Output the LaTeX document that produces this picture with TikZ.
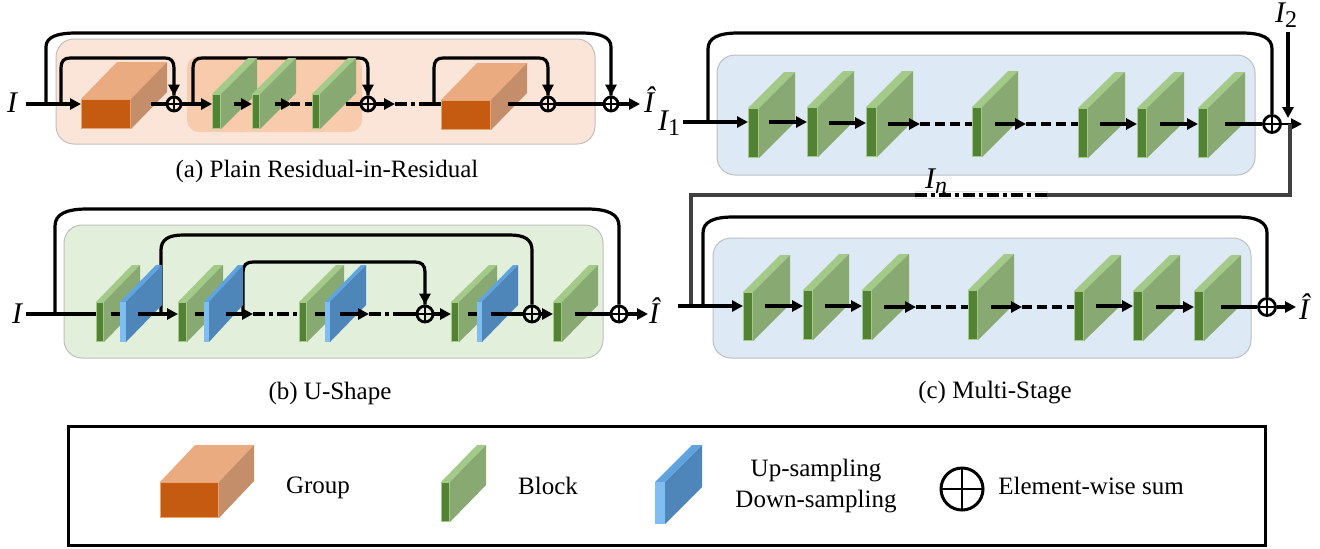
\documentclass[tikz,border=0pt]{standalone}
\usepackage{fontspec}
\setmainfont{Liberation Serif}
\usetikzlibrary{arrows.meta,calc}
\definecolor{gFront}{HTML}{548235}\definecolor{gEdge}{HTML}{A2CB85}\definecolor{gTop}{HTML}{A3CA88}\definecolor{gSide}{HTML}{89A973}
\definecolor{bFront}{HTML}{7FBDF2}\definecolor{bEdge}{HTML}{7FBDF2}\definecolor{bTop}{HTML}{5FA4E0}\definecolor{bSide}{HTML}{4F86B9}
\definecolor{oFront}{HTML}{C55A11}\definecolor{oEdge}{HTML}{E9A473}\definecolor{oTop}{HTML}{EBAB80}\definecolor{oSide}{HTML}{C38E69}
\definecolor{panelO}{HTML}{FBE5D8}\definecolor{panelOi}{HTML}{F8CBAD}\definecolor{panelG}{HTML}{E2EFDA}\definecolor{panelB}{HTML}{DDE9F5}
\tikzset{
  panel/.style={draw=black!25,line width=.5pt},
  conn/.style={line width=1.6pt,black},
  arr/.style={line width=1.6pt,-{Triangle[length=5.5pt,width=5.5pt]}},
  dsh/.style={line width=1.6pt,dash pattern=on 5pt off 2.5pt},
  dshdot/.style={line width=1.6pt,dash pattern=on 6pt off 2pt on 2pt off 2pt},
  greyl/.style={line width=1.6pt,black!75},
  sumnode/.style={circle,draw,line width=1.4pt,minimum size=7pt,inner sep=0pt,
    path picture={\draw[line width=1pt] (path picture bounding box.north)--(path picture bounding box.south)
      (path picture bounding box.west)--(path picture bounding box.east);}},
  captext/.style={font=\fontsize{12.5}{15}\selectfont,inner sep=0pt},
  mth/.style={font=\fontsize{15}{17}\selectfont\itshape,inner sep=0pt},
}
\newcommand\subdigit[1]{\raisebox{-.35ex}{\fontsize{12}{14}\selectfont #1}}
% name, x1, x2, ytop, ybot, xback, yback, colour prefix
\newcommand\boxthree[8]{%
  \pgfmathsetmacro\bdx{#6-#3}\pgfmathsetmacro\bdy{#7-#4}%
  \fill[#8Top] (#2,#4)--(#3,#4)--(#6,#7)--({#2+\bdx},#7)--cycle;
  \fill[#8Side] (#3,#4)--(#6,#7)--(#6,{#5+\bdy})--(#3,#5)--cycle;
  \pgfmathsetmacro\bw{(#3-#2)*.5-.6}\pgfmathsetmacro\bh{(#5-#4)*.5-.6}%
  \node[draw=#8Edge,fill=#8Front,line width=.6pt,inner sep=0pt,minimum width=\bw pt,minimum height=\bh pt] (#1) at ({(#2+#3)/2},{(#4+#5)/2}) {};
}
% options, start coordinate, end node, top y, rh, rv
\newcommand\skipp[6]{%
  \coordinate (tl) at (#2 |- 0,#4);\coordinate (tr) at (#3 |- 0,#4);
  \draw[#1] (#2) -- ($(tl)+(0,#6)$) .. controls ($(tl)+(0,.3*#6)$) and ($(tl)+(.35*#5,0)$) .. ($(tl)+(#5,0)$)
    -- ($(tr)+(-#5,0)$) .. controls ($(tr)+(-.35*#5,0)$) and ($(tr)+(0,.3*#6)$) .. ($(tr)+(0,#6)$) -- (#3.north);
}
\begin{document}
\begin{tikzpicture}[x=.5pt,y=-.5pt]
\useasboundingbox (0,0) rectangle (1320,548);
% panels
\draw[panel,fill=panelO,rounded corners=9pt] (56,39) rectangle (595,144);
\fill[panelOi,rounded corners=6pt] (187,56) rectangle (362,132);
\draw[panel,fill=panelG,rounded corners=9pt] (64,225) rectangle (603,358);
\draw[panel,fill=panelB,rounded corners=9pt] (717,55) rectangle (1255,175);
\draw[panel,fill=panelB,rounded corners=9pt] (713,238) rectangle (1251,358);
% sums
\node[sumnode] (as1) at (174,104) {};
\node[sumnode] (as2) at (368,104) {};
\node[sumnode] (as3) at (548,104) {};
\node[sumnode] (as4) at (611,104) {};
\node[sumnode,minimum size=8pt] (bs1) at (425,314) {};
\node[sumnode,minimum size=8pt] (bs2) at (532,314) {};
\node[sumnode,minimum size=8pt] (bs3) at (619,314) {};
\node[sumnode,minimum size=8.5pt] (cs1) at (1272,124) {};
\node[sumnode,minimum size=8.5pt] (cs2) at (1267,307) {};
% free connector ends
\foreach \n/\x/\y in {%
  ain/26/104,aouter/46/104,ainner/61/104,ag1o/151/104,ask2/193/104,
  ab1o/234/104,ab2o/275/104,ab2m/292/104,ab3o/346/104,as2o/395/104,adash/430/104,ask3/434/104,ag2o/508/104,aend/640/104,
  bin/26/314,bouter/55/314,bsk2/161/314,bsk3/243/314,
  bd1/111/314,bu1o/138/314,bd2/195/314,bu2o/226/314,bu2t/253/314,bd3/315/314,bu3o/340/314,bu3t/369/314,bd3e/403/314,
  bd4/468/314,bu4o/491/314,bb5o/575/314,bend/648/314,
  c1in/683/122,c1sk/708/122,c1o1/769/122,c1o2/829/123,c1o3/888/124,c1t3/920/124,c1o4/995/124,c1t4/1026/124,c1o5/1100/124,c1o6/1160/124,c1o7/1225/124,c1end/1302/124,
  i2top/1288/32,i2tip/1288/118,g1/1290/124,g2/691/306,
  c2in/678/306,c2sk/703/306,c2o1/765/306,c2o2/825/306,c2o3/884/307,c2t3/916/307,c2o4/991/307,c2t4/1022/307,c2o5/1096/306,c2o6/1156/307,c2o7/1221/307,c2end/1296/307}
  {\coordinate (\n) at (\x,\y);}
% skips (behind the blocks)
\skipp{conn}{aouter}{as4}{33}{30}{14}
\skipp{conn}{bouter}{bs3}{209}{32}{17}
\skipp{conn}{bsk2}{bs2}{235}{22}{15}
\skipp{conn}{bsk3}{bs1}{262}{10}{10}
\skipp{conn}{c1sk}{cs1}{33}{30}{16}
\skipp{conn}{c2sk}{cs2}{217}{30}{16}
\skipp{conn}{ainner}{as1}{58}{9}{10}
\skipp{conn}{ask2}{as2}{58}{9}{10}
\skipp{conn}{ask3}{as3}{58}{9}{10}
% arrow tips of the skips
\draw[arr] ($(as1.north)+(0,-8)$) -- (as1.north);
\draw[arr] ($(as2.north)+(0,-8)$) -- (as2.north);
\draw[arr] ($(as3.north)+(0,-8)$) -- (as3.north);
\draw[arr] ($(as4.north)+(0,-8)$) -- (as4.north);
\draw[arr] ($(bs1.north)+(0,-8)$) -- (bs1.north);
% blocks (a)
\boxthree{ag1}{81}{131}{99}{129}{167}{62}{o}
\boxthree{ab1}{212}{221}{94}{129}{257}{58}{g}
\boxthree{ab2}{252}{260}{94}{129}{296}{58}{g}
\boxthree{ab3}{312}{320}{94}{129}{356}{58}{g}
\boxthree{ag2}{441}{491}{100}{130}{527}{63}{o}
% blocks (b)
\boxthree{bb1}{96}{104}{302}{342}{140}{265}{g}
\boxthree{bu1}{120}{126}{302}{342}{162}{265}{b}
\boxthree{bb2}{178}{187}{302}{342}{223}{265}{g}
\boxthree{bu2}{204}{209}{302}{342}{243}{265}{b}
\boxthree{bb3}{299}{307}{302}{342}{344}{265}{g}
\boxthree{bu3}{325}{330}{302}{342}{366}{265}{b}
\boxthree{bb4}{451}{459}{302}{342}{497}{265}{g}
\boxthree{bu4}{477}{482}{302}{342}{518}{265}{b}
\boxthree{bb5}{553}{562}{302}{342}{598}{265}{g}
% blocks (c1)
\boxthree{ca1}{748}{759}{108}{158}{795}{72}{g}
\boxthree{ca2}{807}{818}{107}{157}{854}{71}{g}
\boxthree{ca3}{866}{877}{107}{157}{913}{71}{g}
\boxthree{ca4}{972}{982}{107}{157}{1018}{71}{g}
\boxthree{ca5}{1078}{1088}{108}{158}{1125}{72}{g}
\boxthree{ca6}{1137}{1147}{108}{158}{1184}{72}{g}
\boxthree{ca7}{1198}{1208}{108}{158}{1245}{72}{g}
% blocks (c2)
\boxthree{cb1}{743}{753}{292}{341}{790}{255}{g}
\boxthree{cb2}{803}{813}{290}{340}{849}{254}{g}
\boxthree{cb3}{862}{872}{290}{340}{909}{254}{g}
\boxthree{cb4}{968}{978}{290}{340}{1014}{254}{g}
\boxthree{cb5}{1074}{1084}{291}{341}{1121}{255}{g}
\boxthree{cb6}{1133}{1143}{291}{341}{1180}{255}{g}
\boxthree{cb7}{1194}{1204}{291}{341}{1241}{255}{g}
% connectors (a)
\draw[arr] (ain) -- (ain -| ag1.west);
\draw[conn] (ag1o) -- (as1);
\draw[arr] (as1) -- (as1 -| ab1.west);
\draw[arr] (ab1o) -- (ab1o -| ab2.west);
\draw[dsh] (ab2o) -- (ab2o -| ab3.west);
\draw[arr] (ab2o) -- (ab2m);
\draw[conn] (ab3o) -- (as2);
\draw[arr] (as2) -- (as2o);
\draw[dshdot] (as2o) -- (adash);
\draw[conn] (adash) -- (adash -| ag2.west);
\draw[conn] (ag2o) -- (as3);
\draw[conn] (as3) -- (as4);
\draw[arr] (as4) -- (aend);
% connectors (b)
\draw[conn] (bin) -- (bin -| bb1.west);
\draw[conn] (bd1) -- (bd1 -| bu1.west);
\draw[arr] (bu1o) -- (bu1o -| bb2.west);
\draw[conn] (bd2) -- (bd2 -| bu2.west);
\draw[arr] (bu2o) -- (bu2t);
\draw[dshdot] (bu2t) -- (bu2t -| bb3.west);
\draw[conn] (bd3) -- (bd3 -| bu3.west);
\draw[arr] (bu3o) -- (bu3t);
\draw[dshdot] (bu3t) -- (bd3e);
\draw[conn] (bd3e) -- (bs1);
\draw[arr] (bs1) -- (bs1 -| bb4.west);
\draw[conn] (bd4) -- (bd4 -| bu4.west);
\draw[conn] (bu4o) -- (bs2);
\draw[arr] (bs2) -- (bs2 -| bb5.west);
\draw[conn] (bb5o) -- (bs3);
\draw[arr] (bs3) -- (bend);
% connectors (c1)
\draw[arr] (c1in) -- (c1in -| ca1.west);
\draw[arr] (c1o1) -- (c1o1 -| ca2.west);
\draw[arr] (c1o2) -- (c1o2 -| ca3.west);
\draw[dsh] (c1t3) -- (c1t3 -| ca4.west);
\draw[arr] (c1o3) -- (c1t3);
\draw[dsh] (c1t4) -- (c1t4 -| ca5.west);
\draw[arr] (c1o4) -- (c1t4);
\draw[arr] (c1o5) -- (c1o5 -| ca6.west);
\draw[arr] (c1o6) -- (c1o6 -| ca7.west);
\draw[conn] (c1o7) -- (cs1);
\draw[arr,line width=1pt] (cs1) -- (c1end);
\draw[arr] (i2top) -- (i2tip);
% long return line
\node[draw=black!10,fill=white,line width=.4pt,minimum width=66pt,minimum height=3.6pt,inner sep=0pt] (inbox) at (981,195) {};
\draw[greyl] (g1) |- (inbox.east);
\draw[greyl] (inbox.west) -| (g2);
\draw[dshdot] (inbox.west) -- (inbox.east);
% connectors (c2)
\draw[arr] (c2in) -- (c2in -| cb1.west);
\draw[arr] (c2o1) -- (c2o1 -| cb2.west);
\draw[arr] (c2o2) -- (c2o2 -| cb3.west);
\draw[dsh] (c2t3) -- (c2t3 -| cb4.west);
\draw[arr] (c2o3) -- (c2t3);
\draw[dsh] (c2t4) -- (c2t4 -| cb5.west);
\draw[arr] (c2o4) -- (c2t4);
\draw[arr] (c2o5) -- (c2o5 -| cb6.west);
\draw[arr] (c2o6) -- (c2o6 -| cb7.west);
\draw[conn] (c2o7) -- (cs2);
\draw[arr] (cs2) -- (c2end);
% labels
\node[mth] (tIa) at (12,103) {I};
\node[mth] (tHa) at (649,100) {Î};
\node[mth] (tIb) at (17,314) {I};
\node[mth] (tHb) at (654,311) {Î};
\node[mth] (tI1) at (669,123) {I\subdigit{\upshape 1}};
\node[mth] (tI2) at (1286,15) {I\subdigit{\upshape 2}};
\node[mth] (tIn) at (936,181) {I\subdigit{n}};
\node[mth] (tHc) at (1304,307) {Î};
\node[captext] (capa) at (327,171) {(a) Plain Residual-in-Residual};
\node[captext] (capb) at (330,393) {(b) U-Shape};
\node[captext] (capc) at (995,393) {(c) Multi-Stage};
% legend
\draw[line width=1.5pt] (68,426) rectangle (1265,545);
\boxthree{lg}{160}{219}{482}{518}{254}{445}{o}
\boxthree{lb}{441}{450}{482}{522}{486}{445}{g}
\boxthree{lu}{655}{665}{482}{524}{702}{445}{b}
\node[sumnode,minimum size=21pt,line width=1.5pt,path picture={\draw[line width=1.2pt] (path picture bounding box.north)--(path picture bounding box.south) (path picture bounding box.west)--(path picture bounding box.east);}] (ls) at (962,489) {};
\node[captext] (tg) at (318,488) {Group};
\node[captext] (tb) at (548,486) {Block};
\node[captext] (tu) at (816,471) {Up-sampling};
\node[captext] (td) at (816,502) {Down-sampling};
\node[captext] (te) at (1091,486) {Element-wise sum};
\end{tikzpicture}
\end{document}
